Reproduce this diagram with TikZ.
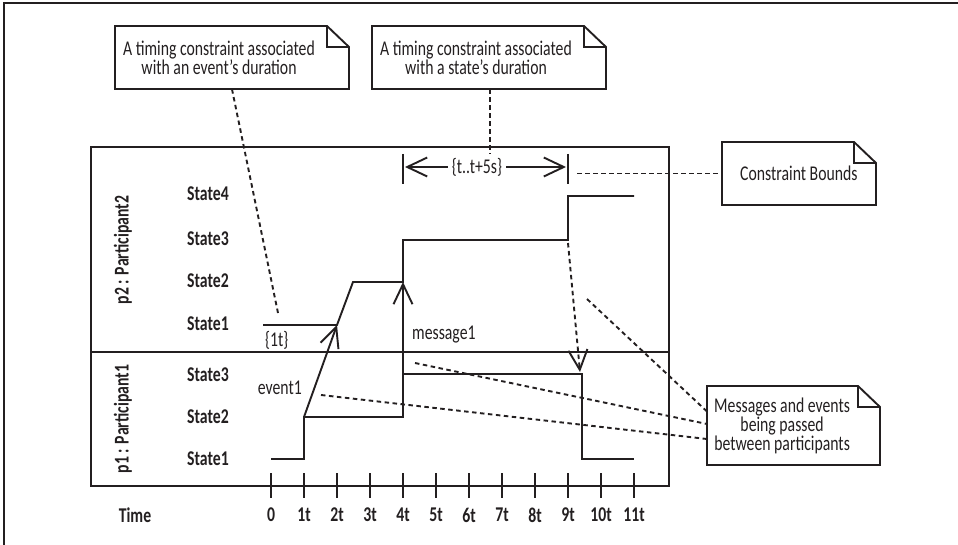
\documentclass[tikz,border=0pt]{standalone}
\usepackage{fontspec}
\setmainfont{Carlito}[FakeStretch=0.75]
\usetikzlibrary{arrows.meta, positioning}
\definecolor{ink}{HTML}{231F20}
\newcommand\diagfont{\fontsize{21}{19}\selectfont}

\begin{document}
\begin{tikzpicture}[
x=1pt, y=-1pt,
color=ink,
font=\diagfont,
line/.style={line width=1.9pt},
dashline/.style={line width=1.9pt, dash pattern=on 4.5pt off 3.5pt},
arrow/.style={line width=1.9pt, -{Straight Barb[length=20pt, width=19pt]}},
note/.style={align=center, inner xsep=8pt, inner ysep=0pt, minimum height=63pt, anchor=west},
state/.style={font=\diagfont\bfseries},
part/.style={rotate=90, font=\diagfont\bfseries},
lbl/.style={inner sep=0pt}
]

\useasboundingbox (0,0) rectangle (958,545);

% ---------- OUTER FRAME ----------
\draw[line width=1.4pt] (4,545) -- (4,3) -- (958,3);

% ---------- TIMING FRAME ----------
\draw[line] (91,147) rectangle (669,486);
\draw[line] (91,352) -- (669,352);

\node[part] (p2lbl) at (123,250) {p2 : Participant2};
\node[part] (p1lbl) at (123,419) {p1 : Participant1};

\foreach \s/\y in {4/194, 3/239, 2/281, 1/324}
  \node[state] (p2s\s) at (208,\y) {State\s};
\foreach \s/\y in {3/375, 2/417, 1/459}
  \node[state] (p1s\s) at (208,\y) {State\s};

% ---------- TIME AXIS ----------
\node[state] (time) at (135,515) {Time};
\foreach \i in {0,...,11} {
  \draw[line] (271+33*\i,473) -- (271+33*\i,498);
  \node[state] (tk\i) at (271+33*\i,515) {\ifnum\i=0 0\else\i t\fi};
}

% ---------- STATE LINES ----------
\draw[line] (263,325) -- (337,325) -- (353,282) -- (403,282) -- (403,240)
  -- (568,240) -- (568,196) -- (634,196);
\draw[line] (271,459) -- (304,459) -- (304,417) -- (403,417) -- (403,374)
  -- (582,374) -- (582,459) -- (634,459);

% ---------- MESSAGES ----------
\coordinate (ev1s) at (304,417);
\coordinate (ev1e) at (337,325);
\coordinate (m1s) at (403,374);
\coordinate (m1e) at (403,282);
\coordinate (m2s) at (568,243);
\coordinate (m2e) at (580,372);

\draw[arrow] (ev1s) -- (ev1e);
\draw[arrow] (m1s) -- (m1e);
\draw[arrow, dash pattern=on 4.5pt off 3.5pt] (m2s) -- (m2e);

\node[lbl, anchor=west] (msg1lbl) at (412,335) {message1};
\node[lbl, anchor=east] (ev1lbl) at (302,388) {event1};
\node[lbl, anchor=west] (dur1t) at (265,340) {\{1t\}};

% ---------- CONSTRAINT BOUNDS ----------
\node[inner xsep=4pt] (bounds) at (477,167) {\{t..t+5s\}};
\coordinate (b4t) at (403,154);
\coordinate (b9t) at (568,154);
\draw[line] (b4t) -- ++(0,30);
\draw[line] (b9t) -- ++(0,30);
\draw[arrow, shorten >=2pt] (bounds.west) -- (bounds.west -| b4t);
\draw[arrow, shorten >=2pt] (bounds.east) -- (bounds.east -| b9t);

% ---------- NOTES ----------
\node[note] (evnote) at (115,57.5)
{A timing constraint associated\\with an event's duration};

\node[note] (statenote) at (372,57.5)
{A timing constraint associated\\with a state's duration};

\node[note, inner xsep=18pt] (boundnote) at (722,173.5)
{Constraint Bounds};

\node[note, inner xsep=7pt, minimum height=79pt] (msgnote) at (707,425.5)
{Messages and events\\being passed\\between participants};

% box width / height of each note, folded corner 22pt
\foreach \n/\w/\h in {evnote/234/63, statenote/234/63, boundnote/154/63, msgnote/173/79}
  \draw[line] ([yshift=\h/2]\n.west) -- ++(\w-22,0) -- ++(22,21)
    -- ++(0,\h-21) -- ++(-\w,0) -- cycle
    ([xshift=\w-22, yshift=\h/2]\n.west) |- ([xshift=\w, yshift=\h/2-21]\n.west);

% ---------- NOTE LINKS ----------
\coordinate (c1t) at (278,313);
\coordinate (m2p) at (587,299);
\coordinate (m1p) at (415,363);
\coordinate (ev1p) at (321,395);

\draw[dashline] ([xshift=117pt]evnote.south west) -- (c1t);
\draw[dashline] ([xshift=118pt]statenote.south west) -- ([xshift=118pt]statenote.south west |- bounds.north);
\draw[dashline] ([xshift=9pt]b9t |- boundnote.west) -- (boundnote.west);
\draw[dashline] (m2p) -- ([yshift=14pt]msgnote.west);
\draw[dashline] (m1p) -- ([yshift=1.5pt]msgnote.west);
\draw[dashline] (ev1p) -- ([yshift=-13.5pt]msgnote.west);

\end{tikzpicture}
\end{document}
